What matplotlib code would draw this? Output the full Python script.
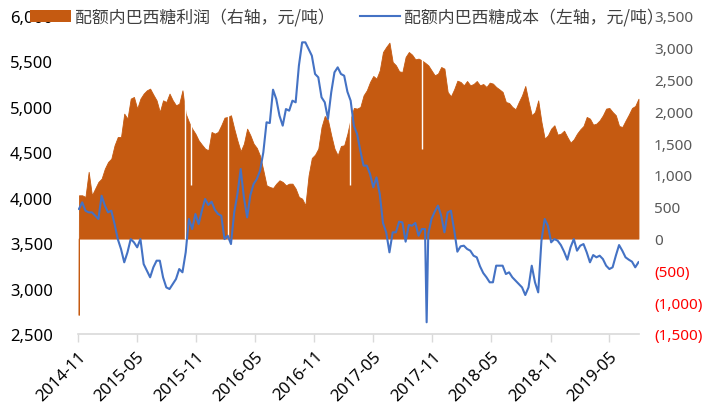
import matplotlib
matplotlib.use('Agg')
import matplotlib.pyplot as plt
import matplotlib.dates as mdates
from matplotlib.patches import Patch
from matplotlib.lines import Line2D
from matplotlib.font_manager import FontProperties
import numpy as np
import pandas as pd

plt.rcParams['font.family'] = ['Noto Sans', 'Noto Sans CJK SC', 'DejaVu Sans']

# ---------------- data (~10-day sampling) ----------------
start_date = '2014-11-04'
step_days = 10

profit = [681, 681, 655, 1050, 681, 786, 891, 943, 1100, 1205,
          1258, 1467, 1598, 1598, 1965, 1886, 2201, 2227, 2044, 2201,
          2280, 2332, 2358, 2263, 2174, 1991, 2174, 2148, 2280, 2174,
          2096, 2122, 2332, 1965, 1834, 1729, 1650, 1545, 1478, 1415,
          1388, 1677, 1650, 1677, 1782, 1902, 1913, 1939, 1729, 1540,
          1373, 1493, 1729, 1624, 1493, 1425, 1300, 1074, 838, 812,
          796, 864, 917, 891, 838, 864, 864, 786, 655, 628,
          524, 996, 1268, 1320, 1415, 1755, 1928, 1860, 1624, 1415,
          1310, 1457, 1467, 1650, 1886, 2054, 2044, 2070, 2253, 2332,
          2463, 2557, 2515, 2646, 2934, 3013, 3081, 2777, 2725, 2630,
          2620, 2856, 2934, 2892, 2819, 2830, 2803, 2766, 2725, 2646,
          2568, 2594, 2698, 2672, 2306, 2237, 2347, 2483, 2463, 2410,
          2478, 2410, 2431, 2478, 2410, 2431, 2384, 2452, 2437, 2384,
          2347, 2306, 2148, 2132, 2070, 2033, 2148, 2253, 2400, 2158,
          1939, 1991, 2174, 1834, 1572, 1624, 1729, 1782, 1635, 1650,
          1697, 1598, 1509, 1561, 1650, 1718, 1771, 1913, 1886, 1792,
          1808, 1860, 1939, 2044, 2054, 1991, 1939, 1771, 1755, 1855,
          1949, 2054, 2085, 2200]

cost = [3876, 3949, 3857, 3839, 3839, 3802, 3766, 4022, 3913, 3839,
        3857, 3711, 3545, 3435, 3289, 3399, 3545, 3509, 3454, 3545,
        3270, 3197, 3124, 3234, 3307, 3307, 3124, 3013, 2995, 3050,
        3105, 3215, 3179, 3399, 3766, 3655, 3821, 3711, 3857, 3986,
        3920, 3956, 3868, 3821, 3802, 3545, 3582, 3490, 3839, 4041,
        4316, 4004, 3784, 4030, 4151, 4206, 4298, 4499, 4830, 4822,
        5189, 5086, 4903, 4793, 4976, 4958, 5068, 5050, 5453, 5710,
        5710, 5637, 5563, 5362, 5325, 5105, 5050, 4866, 5160, 5380,
        5435, 5362, 5343, 5167, 5068, 4793, 4701, 4518, 4353, 4353,
        4261, 4114, 4224, 4041, 3722, 3619, 3399, 3619, 3619, 3736,
        3729, 3516, 3700, 3692, 3722, 3582, 3655, 3655, 3600, 3766,
        3846, 3913, 3802, 3619, 3839, 3857, 3648, 3406, 3465, 3472,
        3436, 3417, 3362, 3344, 3245, 3171, 3124, 3069, 3069, 3252,
        3252, 3252, 3160, 3179, 3124, 3087, 3050, 3013, 2929, 3013,
        3252, 3069, 2958, 3527, 3766, 3692, 3509, 3545, 3527, 3479,
        3406, 3318, 3454, 3545, 3417, 3472, 3490, 3399, 3289, 3369,
        3344, 3362, 3325, 3252, 3215, 3234, 3362, 3479, 3417, 3344,
        3318, 3296, 3234, 3290]

# single-day events
profit_spike_date = '2014-11-03'
profit_spike_value = -1200
dropout_dates = ['2015-09-28', '2015-10-16', '2016-02-07', '2017-02-20', '2017-09-29']
dropout_values = [0, 838, 0, 838, 1415]
cost_spike_date = '2017-10-14'
cost_spike_value = 2629

label_profit = '配额内巴西糖利润（右轴，元/吨）'
label_cost = '配额内巴西糖成本（左轴，元/吨）'

# ---------------- styling ----------------
ORANGE = '#C55A11'
BLUE = '#4472C4'
GRID_GREY = '#D9D9D9'

W, H = 706, 410
fig = plt.figure(figsize=(W / 100, H / 100), dpi=100)
ax1 = fig.add_axes([78 / W, 1 - 335 / H, 560.8 / W, 318 / H])
ax2 = ax1.twinx()
ax1.set_zorder(ax2.get_zorder() + 1)
ax1.patch.set_visible(False)

dates = pd.date_range(start_date, periods=len(profit), freq=f'{step_days}D')

# profit area (right axis)
p_dates = [pd.Timestamp(profit_spike_date)] + list(dates)
p_vals = [profit_spike_value] + list(profit)
ax2.fill_between(p_dates, 0, p_vals, color=ORANGE, lw=0.6, edgecolor=ORANGE)
ax2.vlines(pd.to_datetime(dropout_dates), dropout_values, 3500, colors='white', lw=1.0)

# cost line (left axis)
c_series = pd.Series(cost, index=dates, dtype=float)
c_series[pd.Timestamp(cost_spike_date)] = cost_spike_value
c_series = c_series.sort_index()
ax1.plot(c_series.index, c_series.values, color=BLUE, lw=1.5)

# limits
ax1.set_xlim(pd.Timestamp('2014-11-01'), pd.Timestamp('2019-08-01'))
ax1.set_ylim(2500, 6000)
ax2.set_ylim(-1500, 3500)

# left y ticks
left_ticks = np.arange(2500, 6001, 500)
ax1.set_yticks(left_ticks)
ax1.set_yticklabels([f'{v:,}' for v in left_ticks])
ax1.tick_params(axis='y', length=0, pad=18, labelsize=12, labelcolor='#000000')

# right y ticks
right_ticks = np.arange(-1500, 3501, 500)
def fmt_right(v):
    if v == 0:
        return '0'
    if v > 0:
        return f'{v:,}'
    return f'({-v:,})'
ax2.set_yticks(right_ticks)
ax2.set_yticklabels([fmt_right(v) for v in right_ticks])
ax2.tick_params(axis='y', length=0, pad=11, labelsize=11)
for v, lbl in zip(right_ticks, ax2.get_yticklabels()):
    lbl.set_color('#FF0000' if v < 0 else '#595959')

# x ticks
ax1.xaxis.set_major_locator(mdates.MonthLocator(bymonth=[5, 11]))
ax1.xaxis.set_major_formatter(mdates.DateFormatter('%Y-%m'))
ax1.tick_params(axis='x', length=6, width=1, color=GRID_GREY, labelsize=12, pad=4)
for lbl in ax1.get_xticklabels():
    lbl.set_rotation(45)
    lbl.set_ha('right')
    lbl.set_va('top')
    lbl.set_rotation_mode('anchor')

for ax in (ax1, ax2):
    for s in ax.spines.values():
        s.set_visible(False)
ax1.spines['bottom'].set_visible(True)
ax1.spines['bottom'].set_color(GRID_GREY)
ax1.spines['bottom'].set_linewidth(1.2)
ax2.tick_params(axis='x', length=0)

# legend
handles = [Patch(facecolor=ORANGE, edgecolor='none'),
           Line2D([0], [0], color=BLUE, lw=1.5)]
leg = fig.legend(handles, [label_profit, label_cost], loc='center',
                 bbox_to_anchor=(347 / W, 1 - 18 / H), ncol=2, frameon=False,
                 handlelength=2.37, handleheight=0.65, handletextpad=0.24,
                 columnspacing=1.48, borderaxespad=0, borderpad=0,
                 prop=FontProperties(family=['Noto Sans CJK SC', 'DejaVu Sans'], size=12.2))
for t in leg.get_texts():
    t.set_color('#404040')

fig.savefig('out.png', dpi=100)
